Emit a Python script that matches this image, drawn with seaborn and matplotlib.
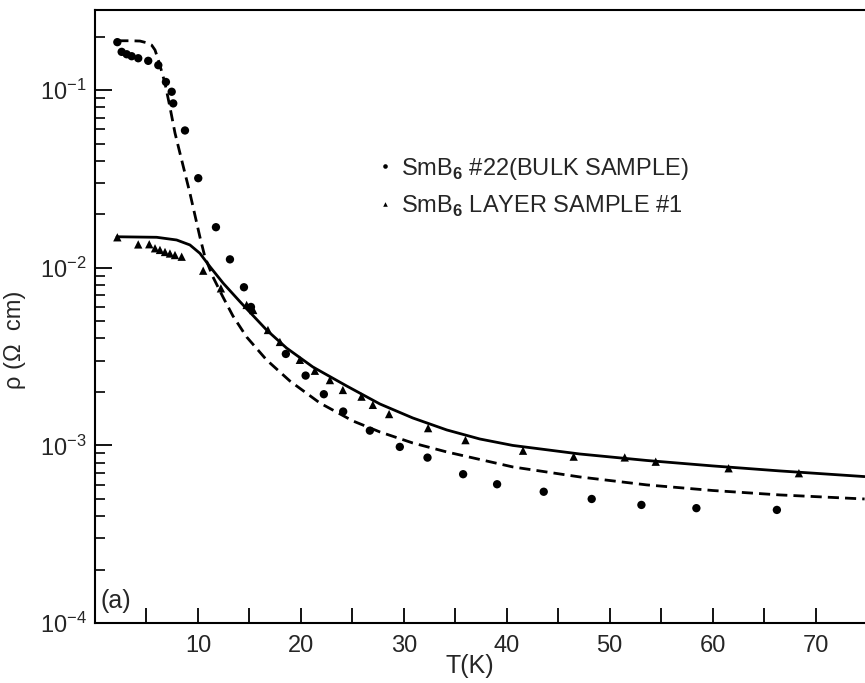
import numpy as np
import pandas as pd
import matplotlib
matplotlib.use('Agg')
import matplotlib.pyplot as plt
import matplotlib.ticker as mticker
import seaborn as sns

# =====================
# Data
# =====================
# SmB6 #22 bulk sample (dots)
bulk_T = [2.17, 2.59, 3.08, 3.56, 4.20, 5.17, 6.15, 6.89, 7.45, 7.60, 8.74,
          10.03, 11.75, 13.11, 14.47, 15.15, 18.54, 20.46, 22.23, 24.11,
          26.70, 29.61, 32.30, 35.76, 39.06, 43.59, 48.25, 53.08, 58.42, 66.24]
bulk_rho = [0.186, 0.164, 0.159, 0.155, 0.151, 0.146, 0.138, 0.111, 0.0978,
            0.0841, 0.0592, 0.0319, 0.0169, 0.01114, 0.00776, 0.00601,
            0.00327, 0.00247, 0.00194, 0.00155, 0.00121, 0.000980, 0.000853,
            0.000688, 0.000604, 0.000548, 0.000499, 0.000462, 0.000443,
            0.000433]

# SmB6 layer sample #1 (triangles)
layer_T = [2.17, 4.20, 5.27, 5.83, 6.31, 6.80, 7.28, 7.77, 8.42, 10.51, 12.23,
           14.73, 15.37, 16.80, 17.96, 19.90, 21.36, 22.82, 24.08, 25.89,
           26.99, 28.57, 32.36, 35.99, 41.58, 46.50, 51.46, 54.47, 61.55, 68.38]
layer_rho = [0.01483, 0.01352, 0.01355, 0.01286, 0.01259, 0.01226, 0.01202,
             0.01178, 0.01153, 0.00962, 0.00765, 0.00617, 0.00578, 0.00446,
             0.00382, 0.00303, 0.00263, 0.00233, 0.00205, 0.00188, 0.00169,
             0.00150, 0.00125, 0.00107, 0.000933, 0.000864, 0.000855,
             0.000809, 0.000743, 0.000697]

# fit curves (dashed = bulk, solid = layer)
fit_bulk_T = [2.17, 3.40, 4.37, 5.02, 5.50, 5.83, 6.15, 6.50, 6.80, 7.28,
              7.77, 8.25, 9.22, 10.19, 10.68, 11.46, 12.43, 13.40, 14.73,
              16.67, 18.93, 21.84, 25.05, 27.67, 30.87, 34.17, 40.58, 47.09,
              53.59, 60.0, 66.5, 74.76]
fit_bulk_rho = [0.1894, 0.1894, 0.1887, 0.1845, 0.1791, 0.168, 0.1475, 0.126,
                0.109, 0.0802, 0.0573, 0.0442, 0.0263, 0.0149, 0.01148,
                0.00887, 0.00684, 0.005349, 0.004074, 0.003024, 0.002303,
                0.001732, 0.001372, 0.001190, 0.001031, 0.000918, 0.000756,
                0.000664, 0.000599, 0.000557, 0.000526, 0.000499]

fit_layer_T = [2.14, 5.99, 7.93, 9.22, 10.19, 11.17, 12.46, 14.08, 16.67,
               18.61, 21.17, 24.44, 27.67, 30.87, 34.17, 37.38, 40.58, 47.09,
               53.59, 60.0, 66.5, 74.76]
fit_layer_rho = [0.01493, 0.01483, 0.01432, 0.01343, 0.01205, 0.01013,
                 0.00817, 0.00644, 0.00446, 0.00353, 0.00276, 0.00216,
                 0.00171, 0.001426, 0.001221, 0.001086, 0.000999, 0.000894,
                 0.000822, 0.000766, 0.000718, 0.000667]

x_ticks = [5, 10, 15, 20, 25, 30, 35, 40, 45, 50, 55, 60, 65, 70]
x_labels = ['' if t % 10 else str(t) for t in x_ticks]

bulk_label = r'SmB$_\mathbf{6}$ #22(BULK SAMPLE)'
layer_label = r'SmB$_\mathbf{6}$ LAYER SAMPLE #1'

# =====================
# Style
# =====================
sns.set_style('white')
plt.rcParams['font.family'] = ['Liberation Sans', 'DejaVu Sans']
plt.rcParams['mathtext.fontset'] = 'custom'
plt.rcParams['mathtext.rm'] = 'Liberation Sans'
plt.rcParams['mathtext.bf'] = 'Liberation Sans:bold'

fig = plt.figure(figsize=(8.65, 6.83), dpi=100)
ax = fig.add_axes([95 / 865, 60 / 683, 770 / 865, 613.5 / 683])

pts = pd.concat([
    pd.DataFrame({'T': bulk_T, 'rho': bulk_rho, 'sample': bulk_label}),
    pd.DataFrame({'T': layer_T, 'rho': layer_rho, 'sample': layer_label}),
])

sns.lineplot(x=fit_bulk_T, y=fit_bulk_rho, ax=ax, color='black', lw=2.0,
             linestyle=(0, (4, 2.2)), legend=False, sort=False)
sns.lineplot(x=fit_layer_T, y=fit_layer_rho, ax=ax, color='black', lw=2.0,
             legend=False, sort=False)
sns.scatterplot(data=pts, x='T', y='rho', style='sample',
                markers={bulk_label: 'o', layer_label: '^'},
                color='black', s=36, linewidth=0, ax=ax)

ax.set_yscale('log')
ax.set_xlim(0, 74.8)
ax.set_ylim(1e-4, 0.284)

ax.set_xticks(x_ticks)
ax.set_xticklabels(x_labels)
ax.yaxis.set_major_locator(mticker.LogLocator(base=10, numticks=10))
ax.yaxis.set_minor_locator(mticker.LogLocator(base=10, subs=np.arange(2, 10), numticks=10))
ax.yaxis.set_minor_formatter(mticker.NullFormatter())

ax.tick_params(axis='x', which='major', direction='in', length=11, width=1.3,
               labelsize=17, pad=9, color='black', bottom=True, top=False)
ax.tick_params(axis='y', which='major', direction='in', length=12, width=1.3,
               labelsize=17, pad=6, color='black', left=True, right=False)
ax.tick_params(axis='y', which='minor', direction='in', length=7, width=1.2,
               color='black', left=True, right=False)

for side in ['left', 'bottom', 'top']:
    ax.spines[side].set_color('black')
    ax.spines[side].set_linewidth(1.5)
ax.spines['right'].set_visible(False)

ax.set_xlabel('T(K)', fontsize=18)
ax.xaxis.set_label_coords(0.487, -0.051)
ax.set_ylabel('ρ (Ω  cm)', fontsize=17)
ax.yaxis.set_label_coords(-0.09, 0.461)

ax.text(0.007, 0.036, '(a)', transform=ax.transAxes, fontsize=18, va='center')

leg = ax.legend(loc='upper left', bbox_to_anchor=(0.355, 0.777), frameon=False,
                fontsize=17, handlelength=0.6, handletextpad=0.4,
                labelspacing=0.5, markerscale=0.55, borderaxespad=0)

fig.savefig('out.png', dpi=100)
